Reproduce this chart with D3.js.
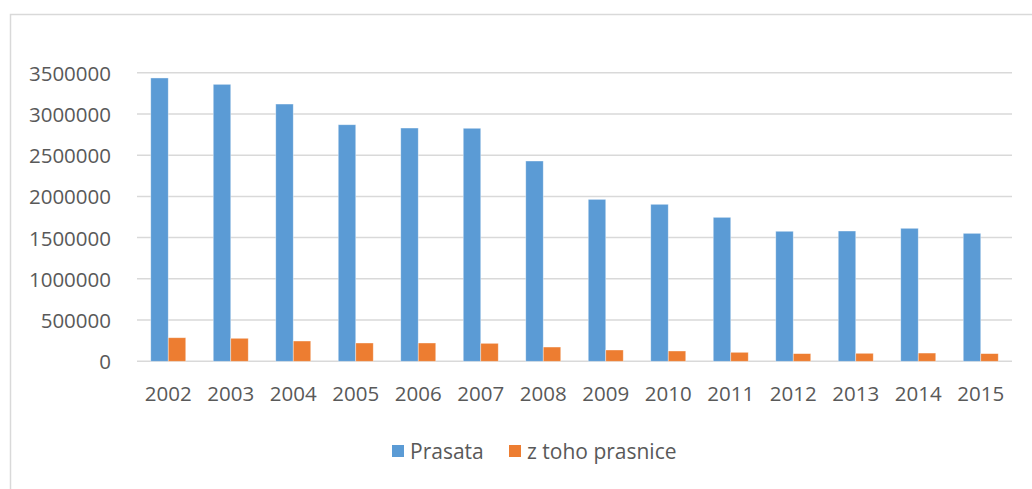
<!DOCTYPE html>
<html>
<head>
<meta charset="utf-8">
<script src="https://cdn.jsdelivr.net/npm/d3@7"></script>
<style>
  body { margin: 0; background: #fff; }
  svg { display: block; font-family: "Open Sans", sans-serif; }
</style>
</head>
<body>
<div class="chart"></div>
<script>

// data
var years = ["2002", "2003", "2004", "2005", "2006", "2007", "2008",
             "2009", "2010", "2011", "2012", "2013", "2014", "2015"];
var prasata = [3436000, 3359000, 3120000, 2869000, 2829000, 2826000, 2429000,
               1964000, 1904000, 1746000, 1577000, 1580000, 1613000, 1552000];
var prasnice = [286000, 279000, 246000, 222000, 222000, 218000, 173000,
                137000, 125000, 109000, 93000, 97000, 100000, 93000];
var seriesNames = ["Prasata", "z toho prasnice"];
var colors = ["#5b9bd5", "#ed7d31"];
var yTicks = [0, 500000, 1000000, 1500000, 2000000, 2500000, 3000000, 3500000];

var width = 1032, height = 489;

var svg = d3.select("div.chart")
    .append("svg")
    .attr("width", width)
    .attr("height", height);

// chart frame
svg.append("rect")
    .attr("x", 10.5)
    .attr("y", 14.5)
    .attr("width", 1040)
    .attr("height", 500)
    .attr("fill", "none")
    .attr("stroke", "#d9d9d9")
    .attr("stroke-width", 1.5);

var x = d3.scaleBand()
    .domain(years)
    .range([137, 1012])
    .paddingInner(0.44)
    .paddingOuter(0.22);

var x1 = d3.scaleBand()
    .domain(seriesNames)
    .range([0, x.bandwidth()]);

var y = d3.scaleLinear()
    .domain([0, 3500000])
    .range([361.3, 72.7]);

// gridlines
svg.append("g")
    .selectAll("line")
    .data(yTicks)
    .enter()
    .append("line")
    .attr("x1", 137)
    .attr("x2", 1012)
    .attr("y1", function (d) { return y(d); })
    .attr("y2", function (d) { return y(d); })
    .attr("stroke", "#d9d9d9")
    .attr("stroke-width", 1.5);

// y tick labels
svg.append("g")
    .selectAll("text")
    .data(yTicks)
    .enter()
    .append("text")
    .attr("x", 111)
    .attr("y", function (d) { return y(d) + 8; })
    .attr("text-anchor", "end")
    .attr("fill", "#595959")
    .style("font-size", "20.5px")
    .text(function (d) { return d; });

// bars
var rows = years.map(function (yr, i) {
    return { year: yr, values: [prasata[i], prasnice[i]] };
});

var groups = svg.append("g")
    .selectAll("g")
    .data(rows)
    .enter()
    .append("g")
    .attr("transform", function (d) { return "translate(" + x(d.year) + ",0)"; });

groups.selectAll("rect")
    .data(function (d) {
        return d.values.map(function (v, k) { return { name: seriesNames[k], value: v, k: k }; });
    })
    .enter()
    .append("rect")
    .attr("x", function (d) { return x1(d.name); })
    .attr("width", x1.bandwidth())
    .attr("y", function (d) { return y(d.value); })
    .attr("height", function (d) { return y(0) - y(d.value); })
    .attr("fill", function (d) { return colors[d.k]; })
    .attr("stroke", "rgba(255,255,255,0.5)")
    .attr("stroke-width", 0.75);

// x labels
svg.append("g")
    .selectAll("text")
    .data(years)
    .enter()
    .append("text")
    .attr("x", function (d) { return x(d) + x.bandwidth() / 2; })
    .attr("y", 401)
    .attr("text-anchor", "middle")
    .attr("fill", "#595959")
    .style("font-size", "20.5px")
    .text(function (d) { return d; });

// legend
var legendX = [392, 509];
var legend = svg.append("g")
    .selectAll("g")
    .data(seriesNames)
    .enter()
    .append("g")
    .attr("transform", function (d, i) { return "translate(" + legendX[i] + ",445)"; });

legend.append("rect")
    .attr("width", 12)
    .attr("height", 12)
    .attr("fill", function (d, i) { return colors[i]; });

legend.append("text")
    .attr("x", 18)
    .attr("y", 13.5)
    .attr("fill", "#595959")
    .style("font-size", "21px")
    .text(function (d) { return d; });

</script>
</body>
</html>
